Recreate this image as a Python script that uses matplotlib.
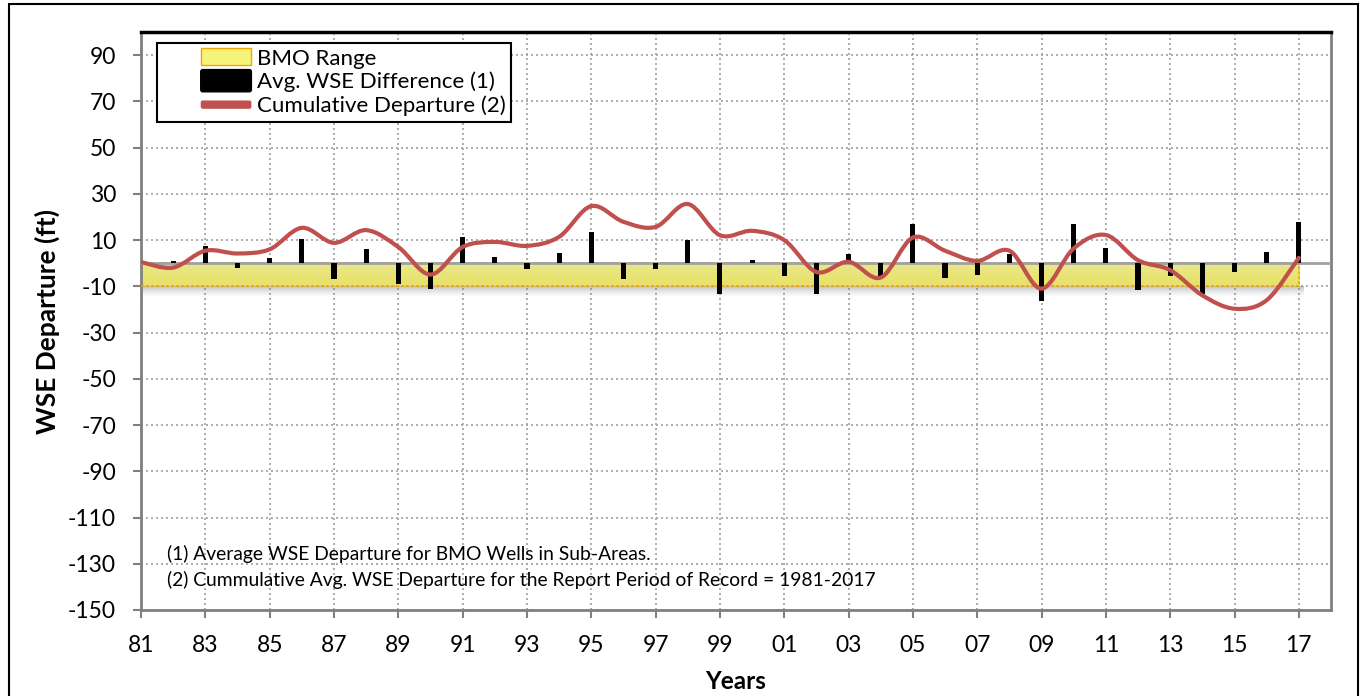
import numpy as np
import matplotlib
matplotlib.use("Agg")
import matplotlib.pyplot as plt
from matplotlib.path import Path
from matplotlib.patches import PathPatch, Patch, Rectangle, FancyBboxPatch
from matplotlib.legend_handler import HandlerPatch

plt.rcParams['font.family'] = ['Lato', 'DejaVu Sans']
plt.rcParams['axes.unicode_minus'] = False

# Data
years = list(range(1981, 2018))
avg_wse_diff = [1.0, 0.8, 7.5, -2.0, 2.3, 10.3, -7.0, 6.0, -9.0, -11.0,
                11.4, 2.7, -2.3, 4.2, 13.3, -7.0, -2.7, 10.0, -13.5, 1.6,
                -5.5, -13.5, 3.9, -6.4, 16.8, -6.2, -4.9, 3.8, -16.4, 17.0,
                6.7, -11.7, -5.6, -13.2, -4.0, 4.9, 17.7]
cum_departure = [0.5, -1.9, 5.4, 4.2, 6.0, 15.3, 8.8, 14.3, 7.0, -4.9,
                 7.0, 9.2, 7.5, 11.4, 24.7, 17.9, 15.7, 25.6, 12.1, 14.0,
                 10.0, -3.8, 0.6, -6.2, 11.1, 5.4, 1.0, 5.4, -11.0, 6.4,
                 12.2, 1.3, -3.0, -13.9, -19.7, -16.0, 2.3]
bmo_low, bmo_high = -10, 0
x_ticks = list(range(1981, 2018, 2))
x_labels = [f"{y % 100:02d}" for y in x_ticks]
y_ticks = list(range(-150, 91, 20))

RED = "#C0504D"

fig = plt.figure(figsize=(13.64, 6.96), dpi=100)
ax = fig.add_axes([141 / 1364, 1 - 610 / 696, (1331 - 141) / 1364, (610 - 32) / 696])

# outer frame of the picture
fig.patches.append(Rectangle((9 / 1364, -0.05), (1358 - 9) / 1364, 1.05 - 4 / 696,
                             transform=fig.transFigure, fill=False, ec="black", lw=1.5))

# BMO band with a soft gradient and drop shadow
grad = np.linspace(0, 1, 50).reshape(-1, 1)
ax.imshow(np.dstack([np.full_like(grad, 0.45), np.full_like(grad, 0.45),
                     np.full_like(grad, 0.45), 0.45 * (1 - grad) ** 1.5]),
          extent=[years[0], years[-1] + 0.15, bmo_low - 5, bmo_low], aspect="auto",
          origin="upper", zorder=1)
band = np.dstack([np.full_like(grad, 0.91), np.full_like(grad, 0.91) - 0.03 * grad,
                  0.55 - 0.15 * grad])
ax.imshow(band, extent=[years[0], years[-1], bmo_low, bmo_high], aspect="auto",
          origin="upper", zorder=2)
ax.plot([years[0], years[-1], years[-1]], [bmo_low, bmo_low, bmo_high],
        color="#F0A800", lw=1.2, ls=(0, (2, 1)), zorder=3)

ax.axhline(0, color="#A0A0A0", lw=2, zorder=3)

# average WSE difference bars
ax.bar(years, avg_wse_diff, width=0.16, color="black", zorder=4)

# smoothed cumulative departure (Bezier through the yearly points)
pts = np.column_stack([years, cum_departure]).astype(float)
verts = [pts[0]]
codes = [Path.MOVETO]
n = len(pts)
for i in range(n - 1):
    p0 = pts[max(i - 1, 0)]
    p1 = pts[i]
    p2 = pts[i + 1]
    p3 = pts[min(i + 2, n - 1)]
    verts += [p1 + (p2 - p0) / 6, p2 - (p3 - p1) / 6, p2]
    codes += [Path.CURVE4] * 3
ax.add_patch(PathPatch(Path(verts, codes), fill=False, ec=RED, lw=3, zorder=5,
                       capstyle="round"))

ax.set_xlim(1981, 2018)
ax.set_ylim(-150, 100)
ax.set_xticks(x_ticks)
ax.set_xticklabels(x_labels)
ax.set_yticks(y_ticks)
ax.tick_params(axis="both", colors="#808080", labelcolor="black", labelsize=16.5,
               length=6, width=1.5, direction="out")
ax.tick_params(axis="x", pad=12)
ax.tick_params(axis="y", pad=12)
ax.grid(True, color="#A0A0A0", ls=(0, (1.2, 1.8)), lw=1.2, zorder=0)
ax.set_axisbelow(True)
for side in ["left", "right", "bottom"]:
    ax.spines[side].set_color("#808080")
    ax.spines[side].set_linewidth(2)
ax.spines["top"].set_color("black")
ax.spines["top"].set_linewidth(2.5)

ax.set_ylabel("WSE Departure (ft)", fontsize=19, fontweight="bold", labelpad=6)
ax.set_xlabel("Years", fontsize=17.5, fontweight="bold", labelpad=10)

ax.text(0.022, 0.097, "(1) Average WSE Departure for BMO Wells in Sub-Areas.",
        transform=ax.transAxes, fontsize=13.9, va="center")
ax.text(0.022, 0.052, "(2) Cummulative Avg. WSE Departure for the Report Period of Record = 1981-2017",
        transform=ax.transAxes, fontsize=13.9, va="center")


# legend keys sit at the right side of a wide handle box, like the Excel legend
def key_patch(kind):
    def make(legend, orig_handle, xdescent, ydescent, width, height, fontsize):
        x0 = -xdescent + width * 0.43
        w = width * 0.57
        yc = -ydescent + height / 2
        if kind == "band":
            return Rectangle((x0, yc - 6), w, 12)
        if kind == "bar":
            return FancyBboxPatch((x0 + 1.5, yc - 6.5), w - 3, 13,
                                  boxstyle="round,pad=1.5")
        return FancyBboxPatch((x0 + 1.5, yc - 1.5), w - 3, 3,
                              boxstyle="round,pad=1")
    return HandlerPatch(patch_func=make)


h_band = Patch(facecolor="#F6F37A", edgecolor="#F0A800", lw=1)
h_bar = Patch(facecolor="black", edgecolor="black")
h_line = Patch(facecolor=RED, edgecolor=RED)
labels = ["BMO Range", "Avg. WSE Difference (1)", "Cumulative Departure (2)"]
leg = ax.legend([h_band, h_bar, h_line], labels, loc="upper left",
                bbox_to_anchor=(0.0134, 0.981),
                fontsize=16, frameon=True, fancybox=False, edgecolor="black",
                framealpha=1, borderpad=0.25, labelspacing=0.15, handlelength=4.0,
                handletextpad=0.23, borderaxespad=0,
                handler_map={h_band: key_patch("band"),
                             h_bar: key_patch("bar"),
                             h_line: key_patch("line")})
leg.get_frame().set_linewidth(1.5)

fig.savefig("out.png", dpi=100)
